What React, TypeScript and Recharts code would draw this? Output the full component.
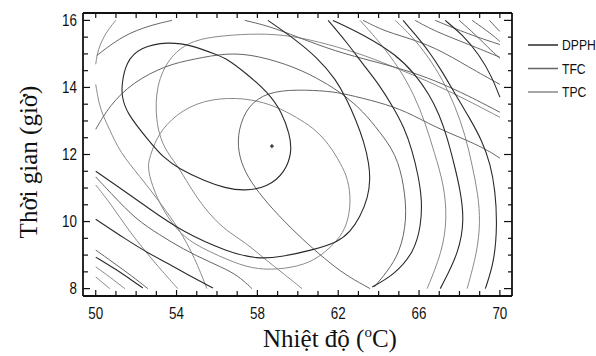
import React from 'react';
import { ScatterChart, Scatter, XAxis, YAxis } from 'recharts';

type Pt = [number, number];

// ---- axes ----
const xDomain: [number, number] = [49.37, 70.6];
const yDomain: [number, number] = [7.78, 16.22];
const xTicks = [50, 51, 52, 53, 54, 55, 56, 57, 58, 59, 60, 61, 62, 63, 64, 65, 66, 67, 68, 69, 70];
const xMajor = [50, 54, 58, 62, 66, 70];
const yTicks = [8, 8.5, 9, 9.5, 10, 10.5, 11, 11.5, 12, 12.5, 13, 13.5, 14, 14.5, 15, 15.5, 16];
const yMajor = [8, 10, 12, 14, 16];

const seriesNames = ['DPPH', 'TFC', 'TPC'];
const seriesColors: Record<string, string> = { DPPH: '#2a2a2a', TFC: '#656565', TPC: '#8a8a8a' };

// ---- DPPH contours ----
const dpphInner: Pt[] = [[53.57,15.37],[54.81,15.25],[55.95,14.98],[56.54,14.84],[57.38,14.45],[58.52,13.86],[59.22,13.26],[59.61,12.58],[59.71,12.07],[59.37,11.47],[58.52,11.03],[57.38,10.91],[56.39,11.0],[55.4,11.21],[54.16,11.56],[53.32,11.92],[52.68,12.37],[51.49,13.26],[51.29,13.77],[51.29,14.09],[51.49,14.75],[52.18,15.2]];
const dpph2: Pt[] = [[58.52,16.0],[59.81,15.46],[60.95,14.9],[61.89,14.24],[62.44,13.62],[62.88,13.02],[63.28,12.37],[63.53,11.71],[63.58,11.24],[63.48,10.73],[63.08,10.13],[62.59,9.69],[61.99,9.39],[60.75,9.15],[59.12,8.94],[58.03,8.88],[56.54,9.09],[54.31,9.69],[52.68,10.37],[50.99,11.09],[50.0,11.5]];
const dpph3: Pt[] = [[50.0,10.07],[51.54,9.45],[52.68,9.03],[53.52,8.77],[54.66,8.38],[55.8,8.02]];
const dpph4: Pt[] = [[50.0,8.94],[51.04,8.56],[51.83,8.23],[52.33,8.02]];
const dpph5: Pt[] = [[61.5,16.0],[62.39,15.37],[63.23,14.69],[64.02,14.09],[64.72,13.41],[65.26,12.81],[65.66,12.13],[65.96,11.38],[66.15,10.64],[66.1,9.89],[65.76,9.09],[64.77,8.41],[63.68,8.05]];
const dpph6: Pt[] = [[61.74,16.0],[63.23,15.58],[64.87,14.98],[65.81,14.39],[66.5,13.8],[67.0,13.2],[67.39,12.52],[67.74,11.71],[68.04,10.94],[68.24,10.07],[67.99,9.09],[67.05,8.0]];
const dpph7: Pt[] = [[65.21,16.0],[65.81,15.58],[66.5,15.07],[67.14,14.48],[67.79,13.8],[68.48,13.11],[69.13,12.4],[69.53,11.71],[69.77,10.94],[69.87,9.89],[69.72,8.79],[69.28,8.0]];
const dpph8: Pt[] = [[67.29,16.0],[68.14,15.58],[68.98,14.98],[69.62,14.3],[70.0,13.71]];

// ---- TFC contours ----
const tfc1: Pt[] = [[63.58,8.0],[62.34,8.41],[61.35,8.88],[60.21,9.48],[59.02,10.19],[58.03,10.88],[57.38,11.47],[57.04,12.07],[57.04,12.73],[57.53,13.47],[58.52,13.86],[59.91,13.94],[61.55,13.89],[62.39,13.8],[64.02,13.56],[65.36,13.29],[66.8,12.81],[68.48,12.4],[69.48,12.1],[70.0,11.89]];
const tfc2: Pt[] = [[50.0,12.75],[50.69,13.47],[51.83,14.15],[53.47,14.66],[54.81,14.84],[56.54,15.04],[58.03,14.95],[59.91,14.6],[61.25,14.18],[62.24,13.8],[63.23,13.29],[64.02,12.7],[64.87,12.01],[65.26,11.09],[65.41,10.07],[65.06,9.09],[64.42,8.5],[63.78,8.05]];
const tfc3: Pt[] = [[53.77,16.0],[52.68,15.85],[51.34,15.55],[50.05,14.95]];
const tfc4: Pt[] = [[57.38,16.0],[58.62,15.82],[59.91,15.52],[61.89,15.07],[63.73,14.78],[65.21,14.54],[66.8,14.21],[68.48,13.74],[70.0,13.26]];
const tfc5: Pt[] = [[63.23,16.0],[64.22,15.7],[65.21,15.52],[66.8,15.2],[68.48,14.6],[70.0,14.09]];
const tfc6: Pt[] = [[65.81,16.0],[66.8,15.67],[68.48,15.28],[70.0,14.9]];
const tfc7: Pt[] = [[66.8,16.0],[68.48,15.58],[70.0,15.28]];
const tfc8: Pt[] = [[67.99,16.0],[68.78,15.58],[69.62,15.07],[70.0,14.87]];
const tfc9: Pt[] = [[68.63,16.0],[69.62,15.58],[70.0,15.37]];
const tfc10: Pt[] = [[69.48,16.0],[70.0,15.67]];
const tfc11: Pt[] = [[50.0,11.33],[50.84,10.79],[51.98,10.07],[53.17,9.6],[54.31,9.18],[55.65,8.79],[56.74,8.5],[57.33,8.23],[57.73,8.0]];
const tfc12: Pt[] = [[50.0,9.15],[50.84,8.79],[51.78,8.38],[52.58,8.0]];

// ---- TPC contours ----
const tpc1: Pt[] = [[52.68,11.92],[52.97,12.46],[53.67,13.05],[54.96,13.56],[56.54,13.71],[58.03,13.62],[59.22,13.35],[59.91,13.11],[60.75,12.81],[61.55,12.31],[62.14,11.71],[62.49,11.27],[62.64,10.58],[62.44,9.89],[61.99,9.45],[61.2,9.0],[60.36,8.71],[59.02,8.56],[57.73,8.59],[56.54,8.85],[54.81,9.33],[53.96,9.78],[53.17,10.49],[52.68,11.27],[52.58,11.68]];
const tpc2: Pt[] = [[60.21,8.0],[59.37,8.41],[58.37,8.88],[57.38,9.39],[56.54,9.69],[55.65,10.19],[54.81,10.88],[54.16,11.56],[53.72,11.92],[53.32,12.28],[52.97,12.96],[52.97,14.06],[53.67,14.95],[54.81,15.43],[56.39,15.55],[58.03,15.61],[59.71,15.55],[61.55,15.28],[63.23,14.98],[65.16,14.51],[66.8,14.09],[68.48,13.59],[70.0,13.11]];
const tpc3: Pt[] = [[50.99,16.0],[50.5,15.64],[50.1,15.13],[50.0,14.69]];
const tpc4: Pt[] = [[50.0,14.09],[50.2,13.35],[50.69,12.75],[51.19,12.07],[52.18,11.35],[53.17,10.58],[54.16,9.75],[54.91,8.91],[55.5,8.0]];
const tpc5: Pt[] = [[63.08,16.0],[64.07,15.34],[65.06,14.54],[65.76,13.77],[66.3,12.96],[66.75,12.07],[67.24,11.09],[67.39,10.07],[67.14,9.09],[66.4,8.0]];
const tpc6: Pt[] = [[64.82,16.0],[65.66,15.52],[66.45,14.92],[67.19,14.21],[67.79,13.44],[68.29,12.58],[68.63,11.68],[68.93,10.79],[69.03,9.98],[68.88,9.09],[68.38,8.0]];
const tpc7: Pt[] = [[50.0,11.09],[50.79,10.49],[51.59,9.77],[52.48,9.09],[53.32,8.5],[54.06,8.0]];
const tpc8: Pt[] = [[50.0,8.65],[50.69,8.35],[51.44,8.0]];
const tpc9: Pt[] = [[50.0,8.35],[50.69,8.0]];

const optimum: Pt[] = [[58.72, 12.25]];

const closedCurves = [dpphInner, tpc1];

const curves: { series: string; pts: Pt[] }[] = [
  ...[tpc1, tpc2, tpc3, tpc4, tpc5, tpc6, tpc7, tpc8, tpc9].map((pts) => ({ series: 'TPC', pts })),
  ...[tfc1, tfc2, tfc3, tfc4, tfc5, tfc6, tfc7, tfc8, tfc9, tfc10, tfc11, tfc12].map((pts) => ({ series: 'TFC', pts })),
  ...[dpphInner, dpph2, dpph3, dpph4, dpph5, dpph6, dpph7, dpph8].map((pts) => ({ series: 'DPPH', pts })),
];

const tickFont = "'Liberation Sans', Arial, sans-serif";
const serif = "'Liberation Serif', 'Times New Roman', serif";
const axisStroke = '#111';
const narrow = 0.84;

const NoShape = () => <g />;

const CrossShape = (p: any) => (
  <g>
    <line x1={p.cx - 2} x2={p.cx + 2} y1={p.cy} y2={p.cy} stroke="#000" strokeWidth={1} />
    <line x1={p.cx} x2={p.cx} y1={p.cy - 2} y2={p.cy + 2} stroke="#000" strokeWidth={1} />
  </g>
);

const NarrowText = ({ x, y, anchor, size, children }: any) => (
  <text
    transform={`translate(${x},${y}) scale(${narrow},1)`}
    textAnchor={anchor}
    fontFamily={tickFont}
    fontSize={size}
    fill="#111"
  >
    {children}
  </text>
);

const BottomTick = (p: any) => {
  const v = p.payload.value;
  const major = xMajor.includes(v);
  return (
    <g>
      <line x1={p.x} x2={p.x} y1={p.y} y2={p.y - (major ? 6 : 5)} stroke={axisStroke} strokeWidth={1.2} />
      {major && (
        <NarrowText x={p.x} y={p.y + 23} anchor="middle" size={16}>
          {v}
        </NarrowText>
      )}
    </g>
  );
};

const TopTick = (p: any) => (
  <line x1={p.x} x2={p.x} y1={p.y} y2={p.y + 5} stroke={axisStroke} strokeWidth={1.2} />
);

const LeftTick = (p: any) => {
  const v = p.payload.value;
  const major = yMajor.includes(v);
  return (
    <g>
      <line x1={p.x} x2={p.x + (major ? 7 : 5)} y1={p.y} y2={p.y} stroke={axisStroke} strokeWidth={1.2} />
      {major && (
        <NarrowText x={p.x - 6} y={p.y + 5.8} anchor="end" size={16}>
          {v}
        </NarrowText>
      )}
    </g>
  );
};

const RightTick = (p: any) => {
  const v = p.payload.value;
  const major = yMajor.includes(v);
  return <line x1={p.x} x2={p.x - (major ? 8 : 4)} y1={p.y} y2={p.y} stroke={axisStroke} strokeWidth={1.2} />;
};

export default function App() {
  return (
    <div style={{ position: 'absolute', left: 0, top: 0, width: 596, height: 356, background: '#fff' }}>
      <ScatterChart width={596} height={356} margin={{ top: 12, right: 83, bottom: 30, left: 43 }}>
        <XAxis
          xAxisId="b"
          type="number"
          dataKey="x"
          domain={xDomain}
          allowDataOverflow
          ticks={xTicks}
          interval={0}
          tickSize={0}
          tickMargin={0}
          tickLine={false}
          tick={BottomTick}
          height={30}
          axisLine={{ stroke: axisStroke, strokeWidth: 1.8 }}
        />
        <XAxis
          xAxisId="t"
          orientation="top"
          type="number"
          dataKey="x"
          domain={xDomain}
          allowDataOverflow
          ticks={xTicks}
          interval={0}
          tickSize={0}
          tickMargin={0}
          tickLine={false}
          tick={TopTick}
          height={1}
          axisLine={{ stroke: axisStroke, strokeWidth: 1.8 }}
        />
        <YAxis
          yAxisId="l"
          type="number"
          dataKey="y"
          domain={yDomain}
          allowDataOverflow
          ticks={yTicks}
          interval={0}
          tickSize={0}
          tickMargin={0}
          tickLine={false}
          tick={LeftTick}
          width={40}
          axisLine={{ stroke: axisStroke, strokeWidth: 1.8 }}
        />
        <YAxis
          yAxisId="r"
          orientation="right"
          type="number"
          dataKey="y"
          domain={yDomain}
          allowDataOverflow
          ticks={yTicks}
          interval={0}
          tickSize={0}
          tickMargin={0}
          tickLine={false}
          tick={RightTick}
          width={1}
          axisLine={{ stroke: axisStroke, strokeWidth: 1.8 }}
        />
        {curves.map((c, i) => (
          <Scatter
            key={i}
            xAxisId="b"
            yAxisId="l"
            data={c.pts.map(([x, y]) => ({ x, y }))}
            shape={NoShape}
            line={{ stroke: seriesColors[c.series], strokeWidth: c.series === 'DPPH' ? 1.1 : 1.0, fill: 'none' }}
            lineType="joint"
            lineJointType={closedCurves.includes(c.pts) ? 'basisClosed' : 'basis'}
            isAnimationActive={false}
          />
        ))}
        <Scatter
          xAxisId="b"
          yAxisId="l"
          data={optimum.map(([x, y]) => ({ x, y }))}
          shape={CrossShape}
          isAnimationActive={false}
        />
      </ScatterChart>
      <svg width={596} height={356} style={{ position: 'absolute', left: 0, top: 0, pointerEvents: 'none' }}>
        {seriesNames.map((n, i) => (
          <g key={n}>
            <line x1={528} x2={558} y1={45 + i * 23.5} y2={45 + i * 23.5} stroke={seriesColors[n]} strokeWidth={1.5} />
            <NarrowText x={562} y={45 + i * 23.5 + 5.2} anchor="start" size={14.5}>
              {n}
            </NarrowText>
          </g>
        ))}
        <text x={330} y={347} textAnchor="middle" fontFamily={serif} fontSize={25} fill="#111">
          Nhiệt độ (<tspan fontSize={15} dy={-10}>o</tspan>
          <tspan dy={10}>C)</tspan>
        </text>
        <text
          x={37}
          y={162}
          textAnchor="middle"
          fontFamily={serif}
          fontSize={25}
          fill="#111"
          transform="rotate(-90, 37, 162)"
        >
          Thời gian (giờ)
        </text>
      </svg>
    </div>
  );
}
